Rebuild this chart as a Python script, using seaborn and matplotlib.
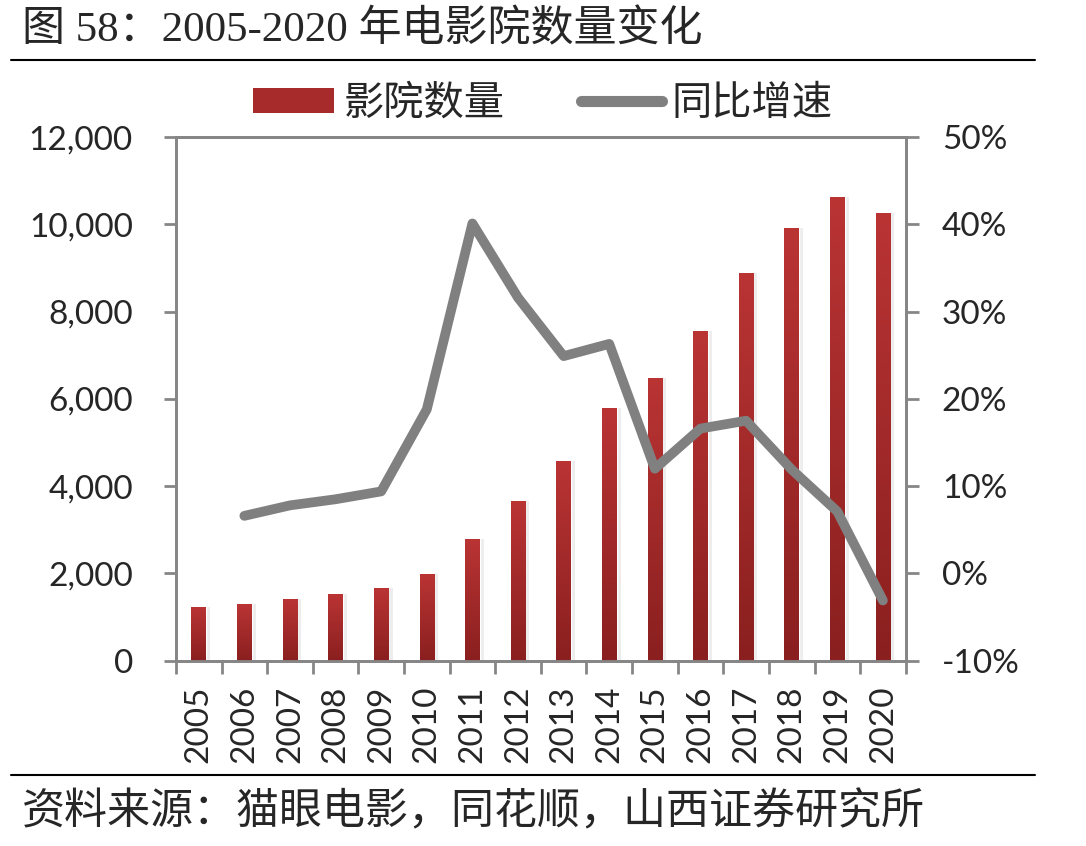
import numpy as np
import matplotlib
matplotlib.use("Agg")
import matplotlib.pyplot as plt
from matplotlib.colors import LinearSegmentedColormap
from matplotlib.ticker import FuncFormatter, PercentFormatter
from matplotlib.lines import Line2D
from matplotlib.patches import Patch
import seaborn as sns
import pandas as pd

years = [str(y) for y in range(2005, 2021)]
cinemas = [1240, 1305, 1420, 1535, 1670, 1990, 2794, 3664, 4580, 5794,
           6480, 7557, 8885, 9916, 10626, 10260]
growth = [np.nan, 6.6, 7.8, 8.5, 9.4, 18.8, 40.1, 31.6, 24.9, 26.3,
          12.0, 16.6, 17.5, 11.9, 7.1, -3.1]

df = pd.DataFrame({'year': years, 'cinemas': cinemas, 'growth': growth})

sns.set_style("white")
TICK_FONT = ['Lato', 'DejaVu Sans']
CJK = ['Noto Sans CJK SC', 'DejaVu Sans']
plt.rcParams['font.family'] = TICK_FONT
plt.rcParams['axes.unicode_minus'] = False

GRAY = '#868686'
LINE_GRAY = '#808080'
FS = 24

fig = plt.figure(figsize=(10.86, 8.46), dpi=100)
ax = fig.add_axes([0.162, 0.219, 0.672, 0.619])

sns.barplot(data=df, x='year', y='cinemas', color='#B03030', width=0.32,
            ax=ax, zorder=2)

# vertical gradient on bars (light red top, dark red bottom)
cmap = LinearSegmentedColormap.from_list('bar', ['#8A1F1F', '#BA3434'])
grad = np.linspace(0, 1, 256).reshape(-1, 1)
for p in ax.patches:
    x0, y0 = p.get_x(), p.get_y()
    w, h = p.get_width(), p.get_height()
    # soft shadow
    ax.bar(x0 + w / 2 + 0.05, h, width=w + 0.08, bottom=y0, color='#000000',
           alpha=0.07, zorder=1, linewidth=0)
    im = ax.imshow(grad, extent=[x0, x0 + w, y0, y0 + h], origin='lower',
                   cmap=cmap, aspect='auto', zorder=3)
    im.set_clip_path(p)
ax.set_xlim(-0.5, len(years) - 0.5)

ax.set_ylim(0, 12000)
ax.set_yticks(np.arange(0, 12001, 2000))
ax.yaxis.set_major_formatter(FuncFormatter(lambda v, _: f"{int(v):,}"))
ax.set_xlabel('')
ax.set_ylabel('')
ax.set_xticks(np.arange(-0.5, len(years), 1), minor=False)
ax.set_xticklabels([])
ax.set_xticks(np.arange(len(years)), minor=True)
ax.set_xticklabels(years, minor=True, rotation=90, fontsize=FS)
ax.tick_params(axis='x', which='minor', length=0, pad=18)
ax.tick_params(axis='x', which='major', length=9, width=2, color=GRAY,
               direction='out', bottom=True)
ax.tick_params(axis='y', length=9, width=2, color=GRAY, labelsize=FS, pad=22,
               direction='out', left=True)

ax2 = ax.twinx()
sns.lineplot(data=df, x='year', y='growth', color=LINE_GRAY, linewidth=7,
             ax=ax2, solid_capstyle='round', solid_joinstyle='round', zorder=5)
ax2.set_ylim(-10, 50)
ax2.set_yticks(np.arange(-10, 51, 10))
ax2.yaxis.set_major_formatter(PercentFormatter(decimals=0))
ax2.set_ylabel('')
ax2.set_xlabel('')
ax2.tick_params(axis='y', length=9, width=2, color=GRAY, labelsize=FS, pad=17,
                direction='out', right=True)
ax2.set_xlim(-0.5, len(years) - 0.5)

for a in (ax, ax2):
    for s in a.spines.values():
        s.set_color(GRAY)
        s.set_linewidth(2)

handles = [Patch(facecolor='#A82B2B', edgecolor='none'),
           Line2D([0], [0], color=LINE_GRAY, linewidth=8, solid_capstyle='round')]
fig.legend(handles, ['影院数量', '同比增速'], loc='center', bbox_to_anchor=(0.50, 0.878),
           ncol=2, frameon=False, prop={'family': CJK, 'size': 29},
           handlelength=2.0, handleheight=0.6, handletextpad=0.25, columnspacing=1.9)

fig.text(0.02, 0.964, '图 58：2005-2020 年电影院数量变化', ha='left', va='center',
         fontsize=31, family=['Liberation Serif', 'Noto Sans CJK SC'])
fig.add_artist(Line2D([0.01, 0.953], [0.929, 0.929], color='black', linewidth=1.5))
fig.add_artist(Line2D([0.01, 0.953], [0.084, 0.084], color='black', linewidth=1.5))
fig.text(0.02, 0.040, '资料来源：猫眼电影，同花顺，山西证券研究所', ha='left', va='center',
         fontsize=31, family=CJK)

fig.savefig('out.png', dpi=100)
